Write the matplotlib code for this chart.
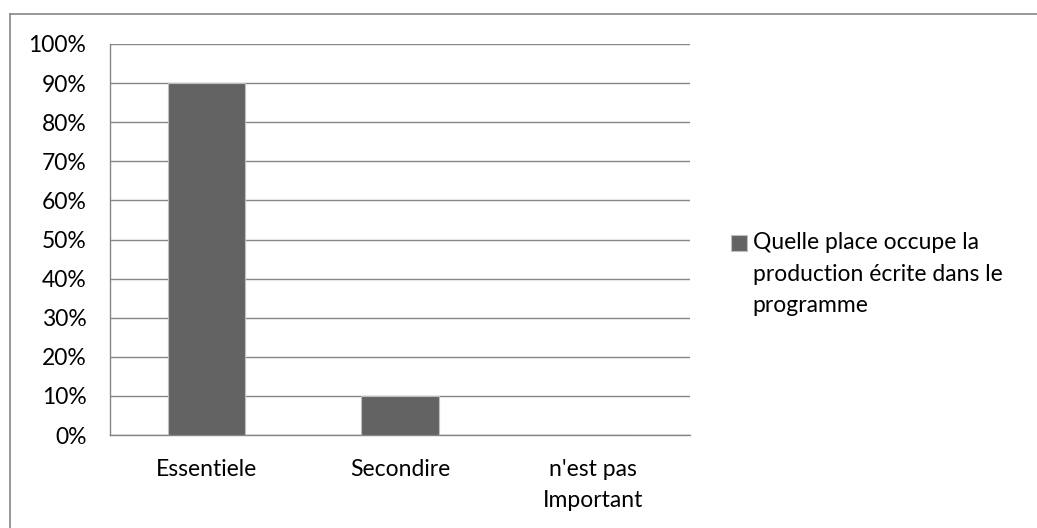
import matplotlib
matplotlib.use("Agg")
import matplotlib.pyplot as plt
from matplotlib.lines import Line2D
from matplotlib.ticker import PercentFormatter

categories = ["Essentiele", "Secondire", "n'est pas\nImportant"]
values = [90, 10, 0]
series_label = "Quelle place occupe la\nproduction écrite dans le\nprogramme"
y_ticks = list(range(0, 101, 10))

bar_color = "#636363"
line_color = "#868686"

plt.rcParams["font.family"] = ["Lato", "DejaVu Sans"]
plt.rcParams["font.size"] = 16.5
plt.rcParams["text.color"] = "black"

W, H = 1037, 528
fig = plt.figure(figsize=(W / 100, H / 100), dpi=100)
ax = fig.add_axes([110 / W, 1 - 435 / H, 580 / W, (435 - 44) / H])

x = range(len(categories))
ax.bar(x, values, width=0.4, color=bar_color, edgecolor="#bfbfbf",
       linewidth=0.8, label=series_label, zorder=3)

ax.set_xlim(-0.5, len(categories) - 0.5)
ax.set_ylim(0, 100)
ax.set_yticks(y_ticks)
ax.yaxis.set_major_formatter(PercentFormatter(decimals=0))
ax.set_xticks(list(x))
ax.set_xticklabels(categories, linespacing=1.62)
ax.tick_params(axis="y", length=0, pad=17)
ax.tick_params(axis="x", length=0, pad=17)

ax.grid(axis="y", color=line_color, linewidth=1.0, zorder=0)
for side in ("top", "right"):
    ax.spines[side].set_visible(False)
for side in ("left", "bottom"):
    ax.spines[side].set_color(line_color)
    ax.spines[side].set_linewidth(1.0)

leg = ax.legend(loc="upper left", bbox_to_anchor=(731 / W, 1 - 232 / H),
                bbox_transform=fig.transFigure, frameon=False,
                handlelength=0.7, handleheight=0.7, handletextpad=0.25,
                borderaxespad=0, borderpad=0)
for t in leg.get_texts():
    t.set_linespacing(1.62)
# keep the swatch level with the first line of the label
swatch = leg.get_patches()[0]
swatch.set_y(swatch.get_y() + 23)

# chart area border (top and left edges)
fig.add_artist(Line2D([10 / W, 1], [1 - 14 / H, 1 - 14 / H],
                      transform=fig.transFigure, color=line_color, lw=1.2))
fig.add_artist(Line2D([10 / W, 10 / W], [0, 1 - 14 / H],
                      transform=fig.transFigure, color=line_color, lw=1.2))

fig.savefig("out.png", dpi=100, facecolor="white")
